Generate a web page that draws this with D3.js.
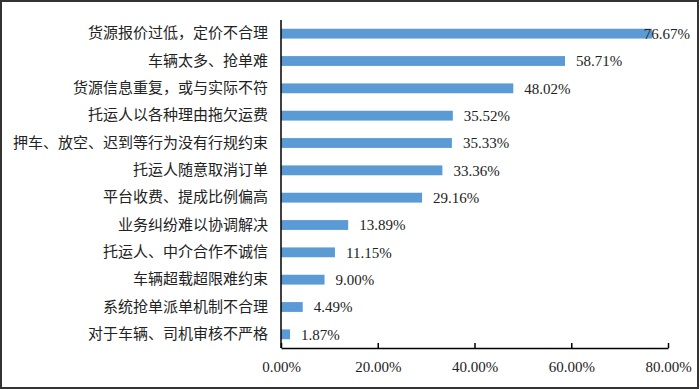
<!DOCTYPE html>
<html><head><meta charset="utf-8">
<script src="https://cdn.jsdelivr.net/npm/d3@7"></script>
<style>body{margin:0;background:#fff;} svg{display:block;}</style>
</head><body>
<svg id="c" width="700" height="390"></svg>
<script>
const categories = ["货源报价过低，定价不合理","车辆太多、抢单难","货源信息重复，或与实际不符","托运人以各种理由拖欠运费","押车、放空、迟到等行为没有行规约束","托运人随意取消订单","平台收费、提成比例偏高","业务纠纷难以协调解决","托运人、中介合作不诚信","车辆超载超限难约束","系统抢单派单机制不合理","对于车辆、司机审核不严格"];
const values = [76.67,58.71,48.02,35.52,35.33,33.36,29.16,13.89,11.15,9.00,4.49,1.87];
const ticks = [0,20,40,60,80];

(function(){
const svg = d3.select("#c");
svg.append("rect").attr("x",1).attr("y",1).attr("width",697).attr("height",387)
  .attr("fill","#fff").attr("stroke","#333").attr("stroke-width",2);

const mLeft=281, mRight=668, mTop=20, mBottom=348;
const x = d3.scaleLinear().domain([0,80]).range([mLeft,mRight]);
const y = d3.scaleBand().domain(categories).range([mTop,mBottom]).paddingInner(0.64).paddingOuter(0.32);

const serif = "'Liberation Serif','Times New Roman',serif";
const cjk = "'Noto Sans CJK SC','Liberation Serif',serif";

svg.selectAll("rect.bar").data(values).enter().append("rect").attr("class","bar")
  .attr("x",x(0)).attr("y",(d,i)=>y(categories[i]))
  .attr("width",d=>x(d)-x(0)).attr("height",y.bandwidth()).attr("fill","#5B9BD5");

const maxRight = 690;
svg.selectAll("text.val").data(values).enter().append("text").attr("class","val")
  .attr("x",d=>x(d)+11).attr("y",(d,i)=>y(categories[i])+y.bandwidth()/2)
  .attr("dy","0.35em").attr("font-family",serif).attr("font-size",15).attr("fill","#222")
  .text(d=>d.toFixed(2)+"%")
  .each(function(){
    const w = this.getComputedTextLength();
    const sx = +this.getAttribute("x");
    if (sx + w > maxRight) this.setAttribute("x", maxRight - w);
  });

const yAxis = d3.axisLeft(y).tickSize(0).tickPadding(13);
const gy = svg.append("g").attr("transform",`translate(${mLeft},0)`).call(yAxis);
gy.select(".domain").attr("stroke","#000").attr("stroke-width",1.5).attr("d",`M0,${mTop}V${mBottom}`);
gy.selectAll("text").attr("font-family",cjk).attr("font-size",15).attr("fill","#222");

const xAxis = d3.axisBottom(x).tickValues(ticks).tickSizeInner(-5).tickSizeOuter(0).tickPadding(13)
  .tickFormat(d=>d.toFixed(2)+"%");
const gx = svg.append("g").attr("transform",`translate(0,${mBottom})`).call(xAxis);
gx.select(".domain").attr("stroke","#000").attr("stroke-width",1.5);
gx.selectAll("line").attr("stroke","#000").attr("stroke-width",1.5);
gx.selectAll("text").attr("font-family",serif).attr("font-size",15).attr("fill","#222");
})();
</script>
</body></html>
